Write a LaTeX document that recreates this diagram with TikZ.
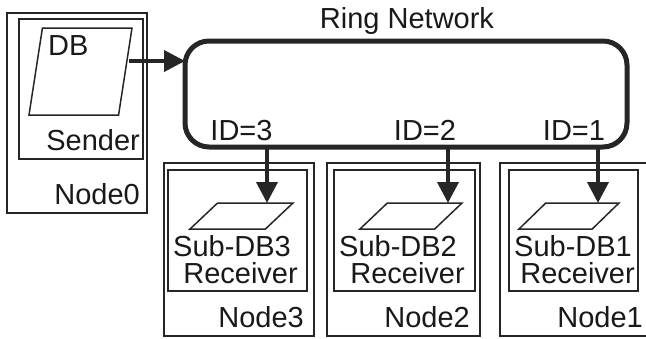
\documentclass[tikz,border=0pt]{standalone}
\usepackage{fontspec}
\setmainfont{Liberation Sans}
\usetikzlibrary{arrows.meta, shapes.geometric, positioning}
\tikzset{
  box/.style={
    rectangle, draw=black!85, line width=1.6pt,
    inner sep=0pt, outer sep=0pt
  },
  ringbox/.style={
    rectangle, rounded corners=24pt, draw=black!85, line width=5pt,
    inner sep=0pt, outer sep=0pt
  },
  store/.style 2 args={
    trapezium, trapezium left angle=#1, trapezium right angle=#2,
    trapezium stretches=true, draw=black!85, line width=1.5pt,
    inner sep=1pt, outer sep=0pt
  },
  lbl/.style={inner sep=0pt, text=black!90, font=\fontsize{29}{34}\selectfont},
  arrow/.style={-{Triangle[length=21pt, width=21pt]}, line width=3.8pt, draw=black!85}
}

\begin{document}
\begin{tikzpicture}[x=1pt, y=-1pt]
  \useasboundingbox (0,0) rectangle (646,338);

  % sender side
  \node[box, minimum width=140pt, minimum height=200pt] (node0) at (77,113) {};
  \node[box, minimum width=124pt, minimum height=140pt] (sender) at (81,89) {};
  \node[store={80}{100}, minimum width=103pt, minimum height=87pt] (db) at (80.5,71.5) {};
  \node[lbl, anchor=base west] (dblbl) at (48,55) {DB};
  \node[lbl, anchor=base east] (senderlbl) at (140,150) {Sender};
  \node[lbl, anchor=base east] (node0lbl) at (140,204) {Node0};

  % ring
  \node[ringbox, minimum width=442pt, minimum height=106pt] (ring) at (406,94) {};
  \node[lbl, anchor=base] (ringlbl) at (407,28) {Ring Network};
  \node[lbl, anchor=base] (id3) at (241.5,140) {ID=3};
  \node[lbl, anchor=base] (id2) at (425,140) {ID=2};
  \node[lbl, anchor=base] (id1) at (574,140) {ID=1};

  % receivers
  \node[box, minimum width=150pt, minimum height=173pt] (node3) at (239,249.5) {};
  \node[box, minimum width=153pt, minimum height=173pt] (node2) at (403.5,249.5) {};
  \node[box, minimum width=150pt, minimum height=173pt] (node1) at (575,249.5) {};
  \node[box, minimum width=139pt, minimum height=121pt] (recv3) at (237.5,230.5) {};
  \node[box, minimum width=141pt, minimum height=121pt] (recv2) at (404.5,230.5) {};
  \node[box, minimum width=129pt, minimum height=121pt] (recv1) at (573.5,230.5) {};
  \node[store={60}{120}, minimum width=103pt, minimum height=26pt] (sub3) at (241.5,216) {};
  \node[store={60}{120}, minimum width=102pt, minimum height=26pt] (sub2) at (411,216) {};
  \node[store={60}{120}, minimum width=100pt, minimum height=26pt] (sub1) at (569,216) {};

  \node[lbl, anchor=base west] (sub3lbl) at (173,256) {Sub-DB3};
  \node[lbl, anchor=base east] (recv3lbl) at (298,283) {Receiver};
  \node[lbl, anchor=base east] (node3lbl) at (304,327) {Node3};
  \node[lbl, anchor=base west] (sub2lbl) at (339,256) {Sub-DB2};
  \node[lbl, anchor=base east] (recv2lbl) at (465,283) {Receiver};
  \node[lbl, anchor=base east] (node2lbl) at (470,327) {Node2};
  \node[lbl, anchor=base west] (sub1lbl) at (514,256) {Sub-DB1};
  \node[lbl, anchor=base east] (recv1lbl) at (635,283) {Receiver};
  \node[lbl, anchor=base east] (node1lbl) at (643,327) {Node1};

  % connections
  \coordinate (tap3) at (267,147);
  \coordinate (tap2) at (448,147);
  \coordinate (tap1) at (598,147);
  \draw[arrow] (db.east |- 0,61) ++(4,0) coordinate (out) -- (out -| ring.west);
  \draw[arrow] (tap3) -- (tap3 |- sub3.north);
  \draw[arrow] (tap2) -- (tap2 |- sub2.north);
  \draw[arrow] (tap1) -- (tap1 |- sub1.north);
\end{tikzpicture}
\end{document}
